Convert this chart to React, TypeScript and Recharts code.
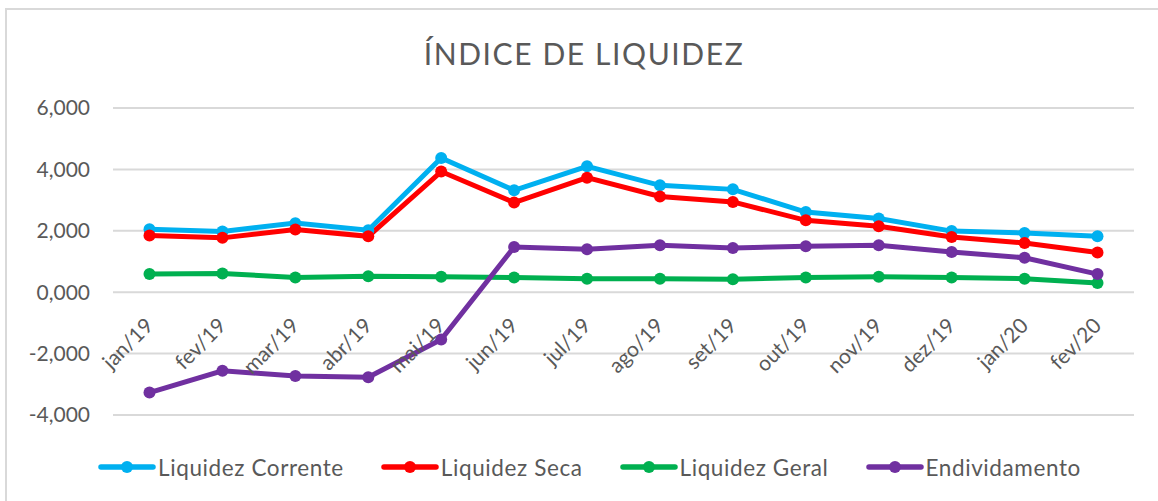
import React from 'react';
import { LineChart, Line, XAxis, YAxis, CartesianGrid, Legend } from 'recharts';

const months = ['jan/19', 'fev/19', 'mar/19', 'abr/19', 'mai/19', 'jun/19', 'jul/19', 'ago/19', 'set/19', 'out/19', 'nov/19', 'dez/19', 'jan/20', 'fev/20'];
const liquidezCorrente = [2.05, 1.98, 2.25, 2.02, 4.37, 3.32, 4.10, 3.48, 3.35, 2.61, 2.40, 1.99, 1.93, 1.82];
const liquidezSeca = [1.85, 1.77, 2.04, 1.82, 3.93, 2.92, 3.73, 3.12, 2.94, 2.34, 2.15, 1.80, 1.60, 1.29];
const liquidezGeral = [0.59, 0.61, 0.48, 0.52, 0.50, 0.48, 0.44, 0.44, 0.42, 0.48, 0.50, 0.48, 0.44, 0.30];
const endividamento = [-3.27, -2.56, -2.73, -2.77, -1.54, 1.47, 1.40, 1.53, 1.44, 1.50, 1.53, 1.31, 1.12, 0.59];
const yTicks = [-4, -2, 0, 2, 4, 6];

const data = months.map((m, i) => ({
  month: m,
  corrente: liquidezCorrente[i],
  seca: liquidezSeca[i],
  geral: liquidezGeral[i],
  endiv: endividamento[i],
}));

const FONT = 'Lato, "Open Sans", sans-serif';
const TEXT = '#595959';

const fmt = (v: number) => v.toFixed(3).replace('.', ',');

const series = [
  { key: 'corrente', name: 'Liquidez Corrente', color: '#00B0F0' },
  { key: 'seca', name: 'Liquidez Seca', color: '#FF0000' },
  { key: 'geral', name: 'Liquidez Geral', color: '#00B050' },
  { key: 'endiv', name: 'Endividamento', color: '#7030A0' },
];

const XTick = (props: any) => {
  const { x, y, payload } = props;
  const ax = x + 5;
  const ay = y - 88;
  return (
    <text x={ax} y={ay} transform={`rotate(-45, ${ax}, ${ay})`} textAnchor="end" fill={TEXT} fontSize={21} fontFamily={FONT}>
      {payload.value}
    </text>
  );
};

const LegendContent = (props: any) => {
  const payload: any[] = props.payload || [];
  const items = series.map((s) => {
    const p = payload.find((q: any) => q.dataKey === s.key || q.value === s.name);
    return { name: p ? p.value : s.name, color: p ? p.color : s.color };
  });
  return (
    <div style={{ height: 30, display: 'flex', alignItems: 'center', justifyContent: 'center', paddingLeft: 45, boxSizing: 'border-box' }}>
      {items.map((p, i) => (
        <div key={i} style={{ display: 'flex', alignItems: 'center', marginRight: i < items.length - 1 ? 37 : 0 }}>
          <svg width={58} height={14} style={{ display: 'block' }}>
            <line x1={3} y1={7} x2={55} y2={7} stroke={p.color} strokeWidth={5.5} strokeLinecap="round" />
            <circle cx={29} cy={7} r={6} fill={p.color} />
          </svg>
          <span style={{ marginLeft: 2, fontFamily: FONT, fontSize: 22.5, letterSpacing: 0.6, color: TEXT, whiteSpace: 'nowrap' }}>{p.name}</span>
        </div>
      ))}
    </div>
  );
};

export default function App() {
  return (
    <div style={{ position: 'fixed', left: 0, top: 0, width: 1158, height: 501, background: '#fff' }}>
      <svg width={1158} height={501} style={{ position: 'absolute', left: 0, top: 0, pointerEvents: 'none' }}>
        <rect x={6} y={9} width={1200} height={600} fill="none" stroke="#d9d9d9" strokeWidth={2} />
        <text x={584} y={65} textAnchor="middle" fill={TEXT} fontSize={30} letterSpacing={1.6} fontFamily={FONT}>ÍNDICE DE LIQUIDEZ</text>
      </svg>
      <div style={{ position: 'absolute', left: 0, top: 0 }}>
        <LineChart width={1158} height={501} data={data} margin={{ top: 108, right: 24, left: 0, bottom: 19 }}>
          <CartesianGrid vertical={false} stroke="#d9d9d9" strokeWidth={2} />
          <XAxis
            dataKey="month"
            height={37}
            axisLine={false}
            tickLine={false}
            tickSize={0}
            tickMargin={0}
            interval={0}
            padding={{ left: 36.5, right: 36.5 }}
            tick={<XTick />}
          />
          <YAxis
            width={113}
            domain={[-4, 6]}
            ticks={yTicks}
            axisLine={false}
            tickLine={false}
            tickSize={0}
            tickMargin={23}
            tickFormatter={fmt}
            tick={{ fill: TEXT, fontSize: 21, fontFamily: FONT }}
          />
          <Legend verticalAlign="bottom" content={<LegendContent />} />
          {series.map((s) => (
            <Line
              key={s.key}
              type="linear"
              dataKey={s.key}
              name={s.name}
              stroke={s.color}
              strokeWidth={5}
              dot={{ r: 6, fill: s.color, stroke: s.color, strokeWidth: 0 }}
              activeDot={false}
              isAnimationActive={false}
            />
          ))}
        </LineChart>
      </div>
    </div>
  );
}
